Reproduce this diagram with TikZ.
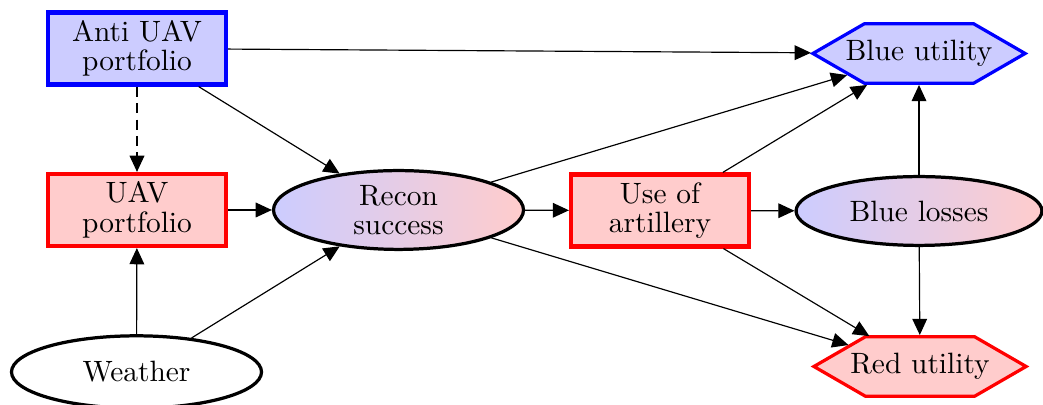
\documentclass[tikz,border=0pt]{standalone}
\usetikzlibrary{arrows.meta,shapes.geometric,shapes.symbols}

\tikzset{
  txt/.style={font=\fontsize{10pt}{10pt}\selectfont, align=center, text=black},
  decbox/.style={txt, rectangle, line width=1.4pt, inner sep=2pt,
    minimum width=60.5pt, minimum height=24.5pt},
  bluebox/.style={decbox, draw=blue, fill=blue!20},
  redbox/.style={decbox, draw=red, fill=red!20},
  chance/.style={txt, ellipse, draw=black, line width=1.1pt, inner sep=0pt},
  shadedchance/.style={chance, left color=blue!20, right color=red!20},
  % hexagon: a signal pointing both ways; its caption sits on top as a label
  utility/.style={signal, signal to=west and east, signal pointer angle=60,
    line width=1.1pt, inner xsep=18.5pt, inner ysep=10.15pt,
    minimum width=0pt, minimum height=0pt,
    label={[txt]center:#1}},
  blueutil/.style={utility=#1, draw=blue, fill=blue!20},
  redutil/.style={utility=#1, draw=red, fill=red!20},
  link/.style={line width=0.4pt, draw=black, -{Triangle[length=5.5pt,width=5pt]}},
  influence/.style={link, dash pattern=on 3.4pt off 2.2pt}
}

\begin{document}
\begin{tikzpicture}[x=0.34pt, y=-0.34pt]
  \useasboundingbox (0,0) rectangle (1043,405);

  % decision nodes
  \node[bluebox] (anti) at (137,48.5) {Anti UAV\\portfolio};
  \node[redbox]  (uav)  at (137,210)  {UAV\\portfolio};
  \node[redbox]  (art)  at (660,210.5) {Use of\\artillery};

  % chance nodes
  \node[shadedchance, minimum width=85pt, minimum height=26.8pt] (recon) at (398.5,210) {Recon\\success};
  \node[shadedchance, minimum width=83.6pt, minimum height=23.4pt] (losses) at (919,211) {Blue losses};
  \node[chance, fill=white, minimum width=85pt, minimum height=24.6pt] (weather) at (136.5,372) {Weather};

  % utility nodes
  \node[blueutil={Blue utility}] (bu) at (919,53.5)  {};
  \node[redutil={Red utility}]   (ru) at (920,366.5) {};

  % arcs
  \draw[link] (anti) -- (bu);
  \draw[link] (anti) -- (recon);
  \draw[influence] (anti) -- (uav);
  \draw[link] (uav) -- (recon);
  \draw[link] (weather) -- (uav);
  \draw[link] (weather) -- (recon);
  \draw[link] (recon) -- (art);
  \draw[link] (recon) -- (bu);
  \draw[link] (recon) -- (ru);
  \draw[link] (art) -- (losses);
  \draw[link] (art) -- (bu);
  \draw[link] (art) -- (ru);
  \draw[link] (losses) -- (bu);
  \draw[link] (losses) -- (ru);
\end{tikzpicture}
\end{document}
